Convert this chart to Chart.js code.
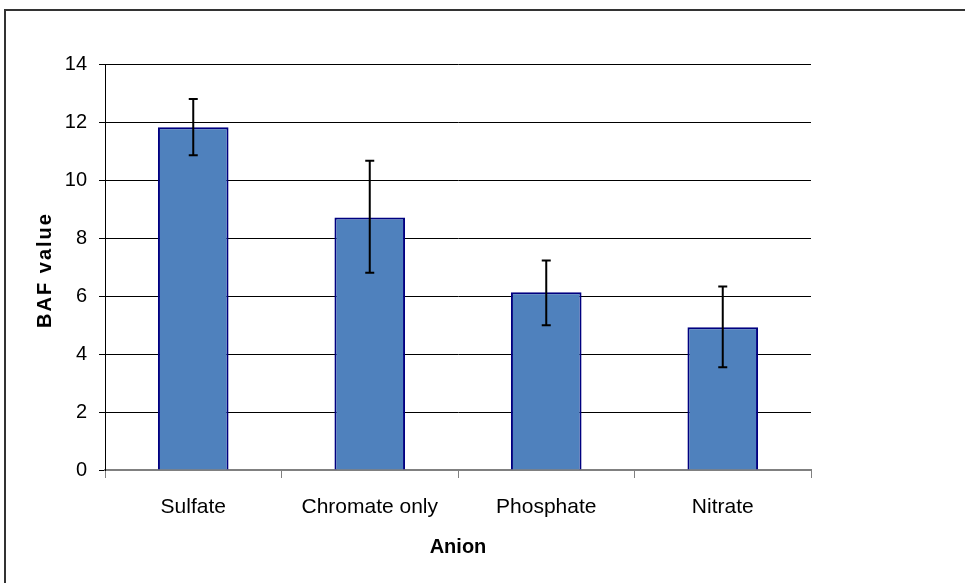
<!DOCTYPE html>
<html>
<head>
<meta charset="utf-8">
<script src="https://cdn.jsdelivr.net/npm/chart.js@4"></script>
<style>
  html, body { margin: 0; padding: 0; background: #fff; overflow: hidden; }
  #frame { position: absolute; left: 4px; top: 9px; width: 1000px; height: 620px; border: 2px solid #333; box-sizing: border-box; }
  #wrap { position: absolute; left: 0; top: 0; width: 965px; height: 583px; }
</style>
</head>
<body>
<div id="frame"></div>
<div id="wrap"><canvas id="chart" width="965" height="583"></canvas></div>
<script>
'use strict';

const CATEGORIES = ['Sulfate', 'Chromate only', 'Phosphate', 'Nitrate'];
const BAF_VALUES = [11.82, 8.71, 6.13, 4.92];
const ERROR_UPPER = [12.79, 10.66, 7.22, 6.33];
const ERROR_LOWER = [10.85, 6.80, 4.99, 3.54];
const Y_TICKS = [0, 2, 4, 6, 8, 10, 12, 14];
const Y_TITLE = 'BAF value';

const FONT = 'Arial, "Liberation Sans", sans-serif';

// draws the black error whiskers on top of each bar
const errorBars = {
  id: 'errorBars',
  afterDatasetsDraw(chart) {
    const { ctx, scales: { y } } = chart;
    const meta = chart.getDatasetMeta(0);
    ctx.save();
    ctx.strokeStyle = '#000';
    ctx.lineWidth = 2;
    meta.data.forEach((bar, i) => {
      const top = y.getPixelForValue(ERROR_UPPER[i]);
      const bottom = y.getPixelForValue(ERROR_LOWER[i]);
      ctx.beginPath();
      ctx.moveTo(bar.x, top);
      ctx.lineTo(bar.x, bottom);
      ctx.moveTo(bar.x - 4.5, top);
      ctx.lineTo(bar.x + 4.5, top);
      ctx.moveTo(bar.x - 4.5, bottom);
      ctx.lineTo(bar.x + 4.5, bottom);
      ctx.stroke();
    });
    ctx.restore();
  },
};

// y title drawn by hand so it can get the wider letter spacing of the original
const yTitle = {
  id: 'yTitle',
  afterDraw(chart) {
    const { ctx, chartArea } = chart;
    ctx.save();
    ctx.translate(45, (chartArea.top + chartArea.bottom) / 2 + 3);
    ctx.rotate(-Math.PI / 2);
    ctx.font = `bold 20px ${FONT}`;
    ctx.letterSpacing = '2px';
    ctx.fillStyle = '#000';
    ctx.textAlign = 'center';
    ctx.textBaseline = 'middle';
    ctx.fillText(Y_TITLE, 0, 0);
    ctx.restore();
  },
};

new Chart(document.getElementById('chart'), {
  type: 'bar',
  data: {
    labels: CATEGORIES,
    datasets: [{
      data: BAF_VALUES,
      backgroundColor: '#4F81BD',
      borderColor: '#000080',
      borderWidth: 2,
      categoryPercentage: 1,
      barPercentage: 0.4,
    }],
  },
  options: {
    responsive: false,
    animation: false,
    layout: { padding: { left: 30, top: 64, right: 154, bottom: 20 } },
    plugins: { legend: { display: false }, tooltip: { enabled: false } },
    scales: {
      x: {
        afterFit: (scale) => { scale.height = 93; },
        grid: { drawOnChartArea: false, drawTicks: true, tickLength: 8, color: '#808080', lineWidth: 1 },
        border: { color: '#808080', width: 2 },
        ticks: { color: '#000', font: { family: FONT, size: 21 }, padding: 17, maxRotation: 0 },
        title: {
          display: true, text: 'Anion', color: '#000',
          font: { family: FONT, size: 20, weight: 'bold' },
          padding: { top: 0, bottom: 4 },
        },
      },
      y: {
        min: 0,
        max: 14,
        afterFit: (scale) => { scale.width = 75; },
        afterBuildTicks: (scale) => { scale.ticks = Y_TICKS.map((v) => ({ value: v })); },
        grid: { color: '#000', lineWidth: 1, drawTicks: true, tickLength: 6 },
        border: { color: '#000', width: 1 },
        ticks: { color: '#000', font: { family: FONT, size: 20 }, padding: 12 },
        title: { display: false },
      },
    },
  },
  plugins: [errorBars, yTitle],
});
</script>
</body>
</html>
